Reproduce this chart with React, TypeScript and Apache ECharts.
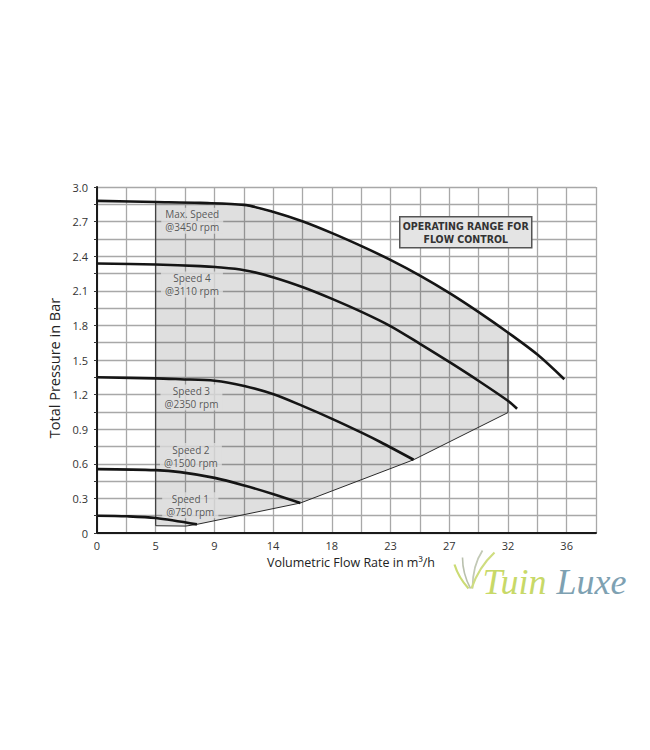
import React, { useEffect, useRef } from 'react';
import * as echarts from 'echarts';

// Tick labels shown on the axes
const xTickLabels = ['0', '5', '9', '14', '18', '23', '27', '32', '36'];
const yTickLabels = ['0', '0.3', '0.6', '0.9', '1.2', '1.5', '1.8', '2.1', '2.4', '2.7', '3.0'];

// Pump curves: [flow m³/h, pressure bar]
const maxSpeed: [number, number][] = [
  [0, 2.88], [4.5, 2.87], [7.92, 2.862], [11.29, 2.845], [13.54, 2.784], [15.79, 2.701],
  [18.02, 2.6], [20.32, 2.485], [22.49, 2.368], [24.79, 2.23], [27.03, 2.08],
  [29.29, 1.913], [31.55, 1.734], [33.78, 1.545], [35.82, 1.333],
];
const speed4: [number, number][] = [
  [0, 2.337], [4.5, 2.328], [7.92, 2.314], [9.07, 2.306], [11.29, 2.279], [13.54, 2.216],
  [15.79, 2.131], [18.02, 2.03], [20.32, 1.915], [22.49, 1.794], [24.79, 1.638],
  [27.03, 1.481], [29.29, 1.316], [31.55, 1.142], [32.2, 1.077],
];
const speed3: [number, number][] = [
  [0, 1.35], [4.5, 1.341], [6.38, 1.333], [9.02, 1.32], [11.29, 1.275], [13.54, 1.203],
  [15.79, 1.1], [18.02, 0.99], [20.32, 0.868], [21.72, 0.789], [24.27, 0.635],
];
const speed2: [number, number][] = [
  [0, 0.554], [4.5, 0.545], [6.38, 0.528], [9.02, 0.478], [11.29, 0.412], [13.54, 0.336], [15.59, 0.26],
];
const speed1: [number, number][] = [
  [0, 0.15], [2.3, 0.145], [4.5, 0.13], [7.66, 0.075],
];

// Operating range for flow control (polygon vertices)
const operatingRange: [number, number][] = [
  [4.5, 0.063], [6.8, 0.06], [7.66, 0.075], [15.59, 0.26], [24.27, 0.635], [31.5, 1.044],
  [31.5, 1.738], [29.29, 1.913], [27.03, 2.08], [24.79, 2.23], [22.49, 2.368], [20.32, 2.485],
  [18.02, 2.6], [15.79, 2.701], [13.54, 2.784], [11.29, 2.845], [7.92, 2.862], [4.5, 2.87],
];

// Curve labels
const curveLabels = [
  { name: 'Max. Speed\n@3450 rpm', value: [7.3, 2.707] },
  { name: 'Speed 4\n@3110 rpm', value: [7.28, 2.155] },
  { name: 'Speed 3\n@2350 rpm', value: [7.24, 1.175] },
  { name: 'Speed 2\n@1500 rpm', value: [7.2, 0.667] },
  { name: 'Speed 1\n@750 rpm', value: [7.15, 0.24] },
];

const FONT = "'Open Sans', 'Noto Sans', sans-serif";
const LOGO_FONT = "'Liberation Serif', 'DejaVu Serif', serif";

export default function App() {
  const ref = useRef<HTMLDivElement>(null);
  useEffect(() => {
    if (!ref.current) return;
    const chart = echarts.init(ref.current, undefined, { renderer: 'svg' });
    const lineSeries = (name: string, data: [number, number][]) => ({
      type: 'line',
      name,
      data,
      smooth: 0.3,
      symbol: 'none',
      z: 5,
      lineStyle: { color: '#151515', width: 2.6 },
    });
    chart.setOption({
      animation: false,
      backgroundColor: '#ffffff',
      textStyle: { fontFamily: FONT },
      grid: { left: 97, top: 187, right: 54, bottom: 217, containLabel: false },
      xAxis: {
        type: 'value',
        min: 0,
        max: 38.25,
        interval: 2.25,
        name: 'Volumetric Flow Rate in m³/h',
        nameLocation: 'middle',
        nameGap: 23,
        nameTextStyle: { fontSize: 12.5, color: '#222', fontWeight: 500, fontFamily: FONT, padding: [0, 0, 0, 9] },
        axisLine: { show: true, onZero: false, lineStyle: { color: '#1a1a1a', width: 2 } },
        axisTick: { show: false },
        axisLabel: {
          margin: 7,
          fontSize: 11,
          color: '#333',
          fontFamily: FONT,
          showMaxLabel: false,
          formatter: (v: number) => {
            const i = Math.round(v / 4.5);
            return Math.abs(v - i * 4.5) < 1e-6 && i < xTickLabels.length ? xTickLabels[i] : '';
          },
        },
        splitLine: { show: true, lineStyle: { color: '#a8a8a8', width: 1.3 } },
      },
      yAxis: {
        type: 'value',
        min: 0,
        max: 3,
        interval: 0.15,
        name: 'Total Pressure in Bar',
        nameLocation: 'middle',
        nameGap: 32,
        nameTextStyle: { fontSize: 14.5, color: '#222', fontWeight: 500, fontFamily: FONT, padding: [0, 16, 0, 0] },
        axisLine: { show: true, onZero: false, lineStyle: { color: '#1a1a1a', width: 2 } },
        axisTick: { show: true, length: 3, lineStyle: { color: '#333', width: 1 } },
        axisLabel: {
          margin: 9,
          fontSize: 11,
          color: '#333',
          fontFamily: FONT,
          formatter: (v: number) => {
            const i = Math.round(v / 0.3);
            return Math.abs(v - i * 0.3) < 1e-6 ? yTickLabels[i] : '';
          },
        },
        splitLine: { show: true, lineStyle: { color: '#a8a8a8', width: 1.3 } },
      },
      series: [
        {
          type: 'custom',
          name: 'Operating range',
          z: 3,
          data: [operatingRange[0]],
          renderItem: (_params: any, api: any) => ({
            type: 'polygon',
            shape: { points: operatingRange.map((p) => api.coord(p)) },
            style: { fill: 'rgba(0,0,0,0.125)', stroke: '#2a2a2a', lineWidth: 1 },
          }),
        },
        lineSeries('Max. Speed', maxSpeed),
        lineSeries('Speed 4', speed4),
        lineSeries('Speed 3', speed3),
        lineSeries('Speed 2', speed2),
        lineSeries('Speed 1', speed1),
        {
          type: 'scatter',
          name: 'labels',
          z: 4,
          symbolSize: 1,
          itemStyle: { color: 'rgba(0,0,0,0)' },
          data: curveLabels,
          label: {
            show: true,
            position: 'inside',
            formatter: '{b}',
            fontSize: 10,
            lineHeight: 13,
            color: '#333',
            fontFamily: FONT,
            backgroundColor: '#dfdfdf',
            padding: [0, 4],
            align: 'center',
          },
        },
      ],
      graphic: [
        {
          type: 'group',
          left: 399,
          top: 216,
          z: 100,
          children: [
            {
              type: 'rect',
              z: 100,
              shape: { x: 0, y: 0, width: 132, height: 31 },
              style: { fill: '#e4e4e4', stroke: '#555', lineWidth: 1.5 },
            },
            {
              type: 'text',
              z: 101,
              x: 66,
              y: 15.5,
              style: {
                text: 'OPERATING RANGE FOR\nFLOW CONTROL',
                fontSize: 10.5,
                fontWeight: 'bold',
                lineHeight: 13,
                fontFamily: "'Liberation Sans Narrow', 'DejaVu Sans Condensed', Roboto, sans-serif",
                fill: '#333',
                align: 'center',
                verticalAlign: 'middle',
              },
            },
          ],
        },
        {
          type: 'group',
          left: 452,
          top: 548,
          z: 100,
          children: [
            { type: 'bezierCurve', z: 100, shape: { x1: 19, y1: 41, x2: 5, y2: 17, cpx1: 9, cpy1: 30 }, style: { stroke: '#cbdb74', lineWidth: 2.2, fill: 'none' } },
            { type: 'bezierCurve', z: 100, shape: { x1: 21, y1: 41, x2: 13, y2: 10, cpx1: 13, cpy1: 26 }, style: { stroke: '#b9c0ad', lineWidth: 1.6, fill: 'none' } },
            { type: 'bezierCurve', z: 100, shape: { x1: 23, y1: 41, x2: 33, y2: 3, cpx1: 23, cpy1: 18 }, style: { stroke: '#c2c9b5', lineWidth: 1.8, fill: 'none' } },
            { type: 'bezierCurve', z: 100, shape: { x1: 22, y1: 41, x2: 45, y2: 5, cpx1: 29, cpy1: 20 }, style: { stroke: '#cfdd80', lineWidth: 2.2, fill: 'none' } },
            {
              type: 'text',
              z: 101,
              x: 33,
              y: 52,
              style: {
                text: 'Tuin',
                font: `italic 36px ${LOGO_FONT}`,
                fill: '#c8d968',
                verticalAlign: 'bottom',
              },
            },
            {
              type: 'text',
              z: 101,
              x: 107,
              y: 52,
              style: {
                text: 'Luxe',
                font: `italic 36px ${LOGO_FONT}`,
                fill: '#7ea1b2',
                verticalAlign: 'bottom',
              },
            },
          ],
        },
      ],
    });
    return () => chart.dispose();
  }, []);
  return (
    <div
      ref={ref}
      style={{ position: 'fixed', left: 0, top: 0, width: 650, height: 750, background: '#fff' }}
    />
  );
}
